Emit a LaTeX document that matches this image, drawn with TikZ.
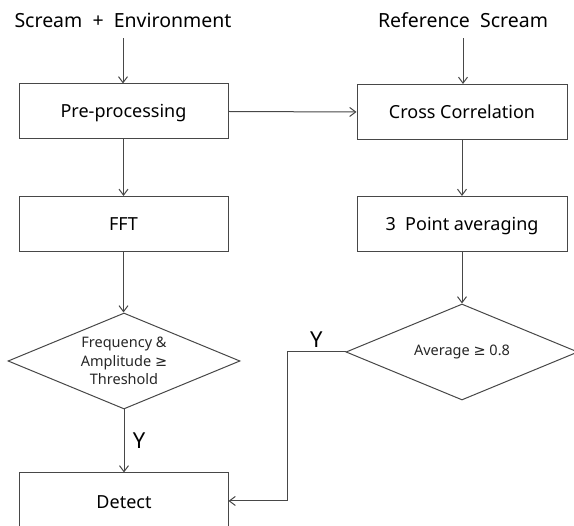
\documentclass[tikz,border=0pt]{standalone}
\usepackage{fontspec}
\setmainfont{Noto Sans}
\newfontfamily\symfont{DejaVu Sans}
\newcommand{\gesym}{{\symfont ≥}}
\usetikzlibrary{arrows.meta,shapes.geometric}
\begin{document}
\begin{tikzpicture}[x=1pt,y=-1pt,
  line width=1pt,
  every node/.style={text=black},
  boxtext/.style={text height=15pt, text depth=2.5pt, font=\fontsize{18}{21}\selectfont},
  box/.style={draw=black!72, rectangle, minimum width=209pt, minimum height=55pt, inner sep=0pt, boxtext},
  choice/.style={draw=black!72, diamond, aspect=2.4, minimum width=232pt, minimum height=96pt, inner sep=0pt, align=center, text=black!85, font=\fontsize{14.5}{18.5}\selectfont},
  title/.style={font=\fontsize{19.5}{22}\selectfont},
  flow/.style={draw=black!72, -{Straight Barb[length=6pt,width=9pt]}},
  ylabel/.style={font=\fontsize{22}{25}\selectfont}
]
\useasboundingbox (0,0) rectangle (574,526);
\clip (0,0) rectangle (574,526);

% inputs
\node[title] (in1) at (123,20) {Scream\ \ +\ \ Environment};
\node[title] (in2) at (463,20) {Reference\ \ Scream};

% left column
\node[box] (pre) at (123.5,111.5) {Pre-processing};
\node[box] (fft) at (123.5,224) {FFT};
\node[choice] (thr) at (124,361) {Frequency \&\\Amplitude \gesym\\Threshold};
\node[box, minimum height=80pt] (det) at (123.5,513) {};
\node[boxtext] (dettxt) at (124,502) {Detect};

% right column
\node[box, minimum width=210pt] (cc) at (462,112) {Cross Correlation};
\node[box, minimum width=210pt] (avg) at (462,224) {3\ \ Point averaging};
\node[choice] (av) at (462,352) {Average \gesym\ 0.8};

% connectors
\draw[flow] (in1.south) ++(0,7) coordinate (a1) -- (pre.north -| a1);
\draw[flow] (in2.south) ++(0,7) coordinate (a2) -- (cc.north -| a2);
\draw[flow] (pre.east) -- (cc.west);
\draw[flow] (pre.south) -- (fft.north);
\draw[flow] (fft.south) -- (fft.south |- thr.north);
\draw[flow] (thr.south) -- (thr.south |- det.north) node[midway, right=5pt, ylabel] (y1) {Y};
\draw[flow] (cc.south) -- (avg.north);
\draw[flow] (avg.south) -- (av.north);
\coordinate (bend) at (287,501);
\draw[flow] (av.west) -- (av.west -| bend) node[midway, above=1pt, ylabel] (y2) {Y} -- (bend) -- (det.east |- bend);
\end{tikzpicture}
\end{document}
